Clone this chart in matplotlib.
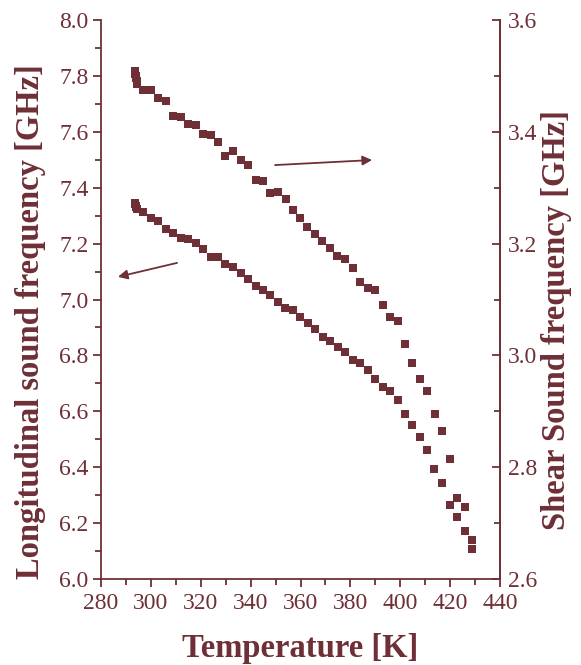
import matplotlib
matplotlib.use("Agg")
import matplotlib.pyplot as plt

# Longitudinal (left axis)
temp_long = [293.6, 293.8, 294.0, 294.2, 294.4, 296.7, 299.9, 303.0, 306.0, 309.0, 312.0, 315.0,
             318.1, 321.0, 324.0, 326.9, 329.9, 332.9, 336.0, 339.0, 342.0, 344.8, 347.9,
             350.8, 353.9, 356.9, 359.8, 362.9, 365.9, 369.0, 371.8, 374.9, 377.9, 380.9,
             383.8, 386.9, 389.9, 392.9, 395.9, 398.9, 401.9, 404.8, 407.8, 410.7, 413.6,
             416.8, 419.8, 422.7, 425.8, 428.9]
freq_long = [7.345, 7.340, 7.335, 7.330, 7.325, 7.313, 7.293, 7.280, 7.253, 7.238, 7.221, 7.215,
             7.202, 7.182, 7.152, 7.151, 7.127, 7.117, 7.096, 7.074, 7.048, 7.034, 7.016,
             6.992, 6.971, 6.961, 6.937, 6.917, 6.894, 6.866, 6.853, 6.831, 6.812, 6.785,
             6.772, 6.748, 6.714, 6.688, 6.672, 6.640, 6.590, 6.552, 6.507, 6.462, 6.392,
             6.345, 6.266, 6.223, 6.172, 6.107]

# Shear (right axis)
temp_shear = [293.6, 293.8, 294.0, 294.2, 294.4, 294.3, 296.7, 299.9, 303.0, 306.0, 309.0, 312.0,
              315.0, 318.1, 321.0, 324.0, 326.9, 329.9, 332.9, 336.0, 339.0, 342.0, 344.8,
              347.9, 351.0, 354.0, 357.0, 359.9, 362.8, 365.9, 368.8, 371.8, 374.7, 377.9,
              380.9, 383.8, 386.9, 389.9, 392.9, 395.9, 398.9, 401.9, 404.8, 407.9, 410.9,
              413.9, 416.8, 419.8, 422.7, 425.8, 428.9]
freq_shear = [3.509, 3.504, 3.500, 3.496, 3.491, 3.486, 3.474, 3.474, 3.461, 3.455, 3.429, 3.427,
              3.414, 3.412, 3.396, 3.395, 3.381, 3.357, 3.366, 3.350, 3.341, 3.314, 3.312,
              3.290, 3.293, 3.280, 3.260, 3.245, 3.230, 3.218, 3.205, 3.193, 3.178, 3.172,
              3.156, 3.132, 3.121, 3.117, 3.090, 3.068, 3.062, 3.020, 2.986, 2.958, 2.936,
              2.895, 2.865, 2.814, 2.745, 2.729, 2.670]

x_ticks = [280, 300, 320, 340, 360, 380, 400, 420, 440]
left_ticks = [6.0, 6.2, 6.4, 6.6, 6.8, 7.0, 7.2, 7.4, 7.6, 7.8, 8.0]
right_ticks = [2.6, 2.8, 3.0, 3.2, 3.4, 3.6]

C = "#6E2F36"
plt.rcParams['font.family'] = ['Liberation Serif', 'DejaVu Serif']

fig = plt.figure(figsize=(5.81, 6.65), dpi=100)
ax = fig.add_axes([101/581, 1-579/665, 399/581, 559/665])
ax2 = ax.twinx()

ax.plot(temp_long, freq_long, 's', color=C, markersize=6.2, markeredgewidth=0)
ax2.plot(temp_shear, freq_shear, 's', color=C, markersize=6.2, markeredgewidth=0)

ax.set_xlim(280, 440)
ax.set_ylim(6.0, 8.0)
ax2.set_ylim(2.6, 3.6)
ax.set_xticks(x_ticks)
ax.set_xticks(range(290, 440, 20), minor=True)
ax.set_yticks(left_ticks)
ax.set_yticklabels([f"{v:.1f}" for v in left_ticks])
ax.set_yticks([6.1 + 0.2*i for i in range(10)], minor=True)
ax2.set_yticks(right_ticks)
ax2.set_yticklabels([f"{v:.1f}" for v in right_ticks])
ax2.set_yticks([2.7, 2.9, 3.1, 3.3, 3.5], minor=True)

for a in (ax, ax2):
    a.spines['top'].set_visible(False)
    for s in a.spines.values():
        s.set_color(C)
        s.set_linewidth(1.3)

ax.tick_params(axis='both', which='both', direction='out', color=C, labelcolor=C,
               labelsize=17, width=1.3)
ax.tick_params(which='major', length=6)
ax.tick_params(which='minor', length=4)
ax.tick_params(axis='x', pad=4)
ax.tick_params(axis='y', pad=3)
ax2.tick_params(axis='y', which='both', direction='in', color=C, labelcolor=C,
                labelsize=17, width=1.3, pad=6)
ax2.tick_params(which='major', length=6)
ax2.tick_params(which='minor', length=4)
ax2.spines['left'].set_visible(False)
ax2.spines['bottom'].set_visible(False)

lab = dict(fontsize=23.5, fontweight='bold', color=C)
ax.set_xlabel("Temperature [K]", va='baseline', **lab)
ax.xaxis.set_label_coords(0.5, (579 - 657) / 559)
ax.set_ylabel("Longitudinal sound frequency [GHz]", va='center', **lab)
ax.yaxis.set_label_coords((31 - 101) / 399, (579 - 321.5) / 559)
ax2.set_ylabel("Shear Sound frequency [GHz]", va='center', rotation=90, **lab)
ax2.yaxis.set_label_coords((557 - 101) / 399, (579 - 320) / 559)

arrow = dict(arrowstyle='-|>', color=C, lw=1.3, mutation_scale=14, shrinkA=0, shrinkB=0)
ax.annotate("", xy=(388.7, 7.499), xytext=(349.8, 7.481), arrowprops=arrow)
ax.annotate("", xy=(286.8, 7.081), xytext=(310.5, 7.131), arrowprops=arrow)

fig.savefig("out.png", dpi=100)
